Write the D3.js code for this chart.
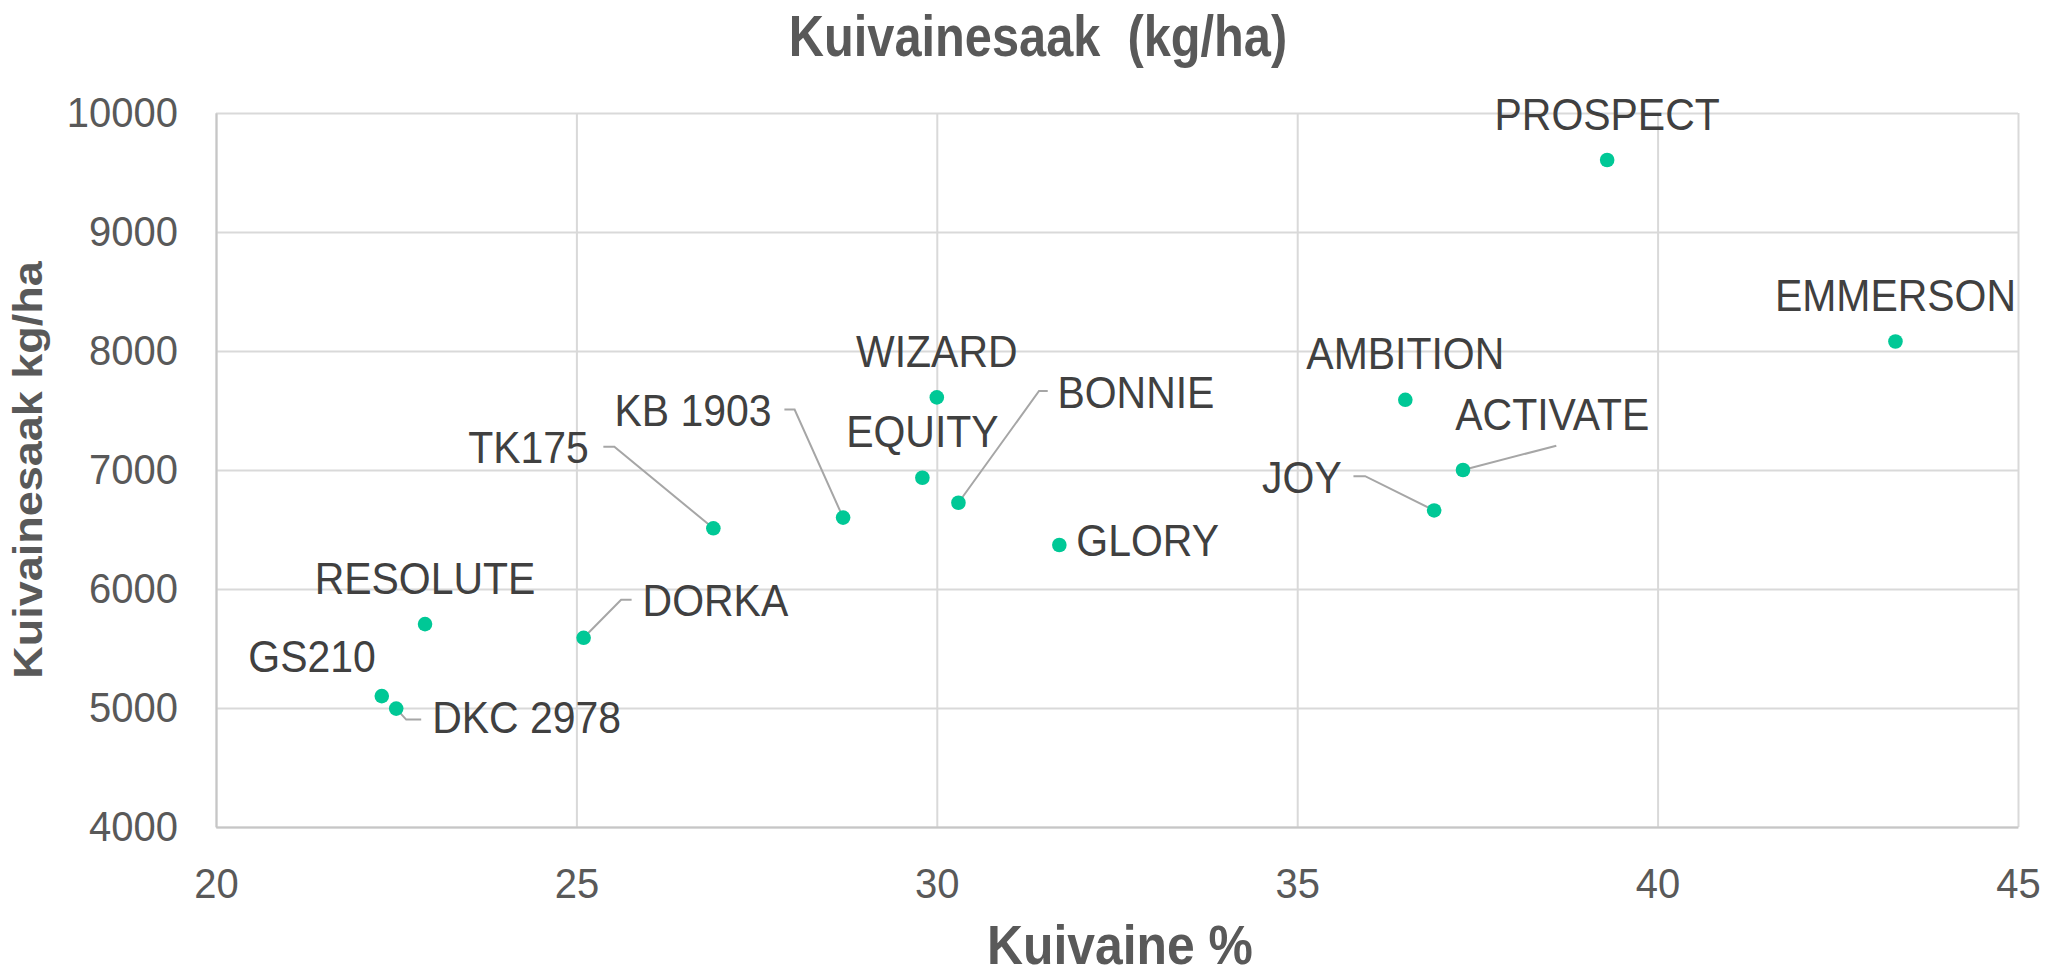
<!DOCTYPE html>
<html>
<head>
<meta charset="utf-8">
<script src="https://cdn.jsdelivr.net/npm/d3@7"></script>
<style>
  body { margin: 0; background: #fff; }
  text { font-family: "Liberation Sans", Arial, sans-serif; }
</style>
</head>
<body>
<script>
// data
var varieties = ["PROSPECT", "EMMERSON", "AMBITION", "ACTIVATE", "JOY", "GLORY", "BONNIE", "WIZARD",
                 "EQUITY", "KB 1903", "TK175", "DORKA", "RESOLUTE", "GS210", "DKC 2978"];
var dryMatter = [39.3, 43.3, 36.5, 37.3, 36.9, 31.7, 30.3, 30.0, 29.8, 28.7, 26.9, 25.1, 22.9, 22.3, 22.5];
var yieldKg   = [9605, 8080, 7590, 7000, 6660, 6370, 6725, 7610, 6935, 6600, 6510, 5590, 5705, 5100, 4995];
var xTicks = [20, 25, 30, 35, 40, 45];
var yTicks = [4000, 5000, 6000, 7000, 8000, 9000, 10000];

// label placement (pixel offsets from the dot), like the hand-moved labels in the original
var labelPos = {
  "PROSPECT": {pos: "above"}, "EMMERSON": {pos: "above"}, "AMBITION": {pos: "above"},
  "WIZARD": {pos: "above"}, "EQUITY": {pos: "above"}, "RESOLUTE": {pos: "above"},
  "GLORY": {dx: 17, dy: 11, anchor: "start"},
  "GS210": {dx: -6, dy: -24, anchor: "end"},
  "DKC 2978": {dx: 36, dy: 24, anchor: "start", leader: [[10, 11], [25, 11]]},
  "DORKA": {dx: 59, dy: -22, anchor: "start", leader: [[37.5, -38], [48, -38]]},
  "TK175": {dx: -124.5, dy: -65, anchor: "end", leader: [[-99, -81.6], [-110, -81.6]]},
  "KB 1903": {dx: -71.5, dy: -92, anchor: "end", leader: [[-48.5, -108], [-58.7, -108]]},
  "BONNIE": {dx: 99, dy: -95, anchor: "start", leader: [[80.6, -111.7], [89.3, -111.7]]},
  "JOY": {dx: -92.4, dy: -17, anchor: "end", leader: [[-69, -34.3], [-80.7, -34.3]]},
  "ACTIVATE": {dx: -7.7, dy: -40, anchor: "start", leader: [[93.3, -24.3]]}
};

var W = 2049, H = 976;
var margin = {top: 113, right: 31, bottom: 149, left: 216};
var w = W - margin.left - margin.right;
var h = H - margin.top - margin.bottom;

var svg = d3.select("body").append("svg").attr("width", W).attr("height", H);
var g = svg.append("g").attr("transform", "translate(" + margin.left + "," + margin.top + ")");

var x = d3.scaleLinear().domain([20, 45]).range([0, w]);
var y = d3.scaleLinear().domain([4000, 10000]).range([h, 0]);

// gridlines
g.append("g").attr("class", "grid")
  .call(d3.axisLeft(y).tickValues(yTicks).tickSize(-w).tickFormat(""))
  .call(function(s) { s.select(".domain").remove(); });
g.append("g").attr("class", "grid")
  .attr("transform", "translate(0," + h + ")")
  .call(d3.axisBottom(x).tickValues(xTicks).tickSize(-h).tickFormat(""))
  .call(function(s) { s.select(".domain").remove(); });
g.selectAll(".grid line").attr("stroke", "#d9d9d9").attr("stroke-width", 2);

// axes
var tx = 0.93;
var yAxis = g.append("g")
  .call(d3.axisLeft(y).tickValues(yTicks).tickFormat(d3.format("d")).tickSize(0).tickPadding(38));
var xAxis = g.append("g").attr("transform", "translate(0," + h + ")")
  .call(d3.axisBottom(x).tickValues(xTicks).tickSize(0).tickPadding(40));
[yAxis, xAxis].forEach(function(a) {
  a.select(".domain").attr("stroke", "#c6c6c6").attr("stroke-width", 2);
  a.selectAll("text").attr("font-size", 43).attr("fill", "#595959")
    .attr("font-family", "Liberation Sans, Arial, sans-serif");
});
yAxis.selectAll("text").attr("x", -38 / tx).attr("transform", "scale(" + tx + ",1)");
xAxis.selectAll("text").attr("transform", "scale(" + tx + ",1)");

// points
var points = varieties.map(function(name, i) {
  return {name: name, xv: dryMatter[i], yv: yieldKg[i]};
});

var lx = 0.91;
points.forEach(function(d) {
  var px = x(d.xv), py = y(d.yv);
  var p = labelPos[d.name];
  if (p.leader) {
    var pts = [[px, py]].concat(p.leader.map(function(o) { return [px + o[0], py + o[1]]; }));
    g.append("path").attr("d", d3.line()(pts))
      .attr("fill", "none").attr("stroke", "#a6a6a6").attr("stroke-width", 2);
  }
  var tX, tY, anchor;
  if (p.pos === "above") { tX = px; tY = py - 30.5; anchor = "middle"; }
  else { tX = px + p.dx; tY = py + p.dy; anchor = p.anchor; }
  g.append("text").text(d.name)
    .attr("transform", "translate(" + tX + "," + tY + ") scale(" + lx + ",1)")
    .attr("text-anchor", anchor)
    .attr("font-size", 45)
    .attr("fill", "#404040");
});

g.selectAll("circle").data(points).enter().append("circle")
  .attr("cx", function(d) { return x(d.xv); })
  .attr("cy", function(d) { return y(d.yv); })
  .attr("r", 7.3)
  .attr("fill", "#00c896");

// titles
svg.append("text").text("Kuivainesaak  (kg/ha)")
  .style("white-space", "pre")
  .attr("transform", "translate(1038,56) scale(0.855,1)")
  .attr("text-anchor", "middle").attr("font-size", 57).attr("font-weight", "bold").attr("fill", "#595959");

svg.append("text").text("Kuivaine %")
  .attr("transform", "translate(1120,964) scale(0.89,1)")
  .attr("text-anchor", "middle").attr("font-size", 56).attr("font-weight", "bold").attr("fill", "#595959");

svg.append("text").text("Kuivainesaak kg/ha")
  .attr("transform", "translate(42," + (margin.top + h / 2) + ") rotate(-90) scale(1,0.9)")
  .attr("text-anchor", "middle").attr("font-size", 45).attr("font-weight", "bold").attr("fill", "#595959");
</script>
</body>
</html>
